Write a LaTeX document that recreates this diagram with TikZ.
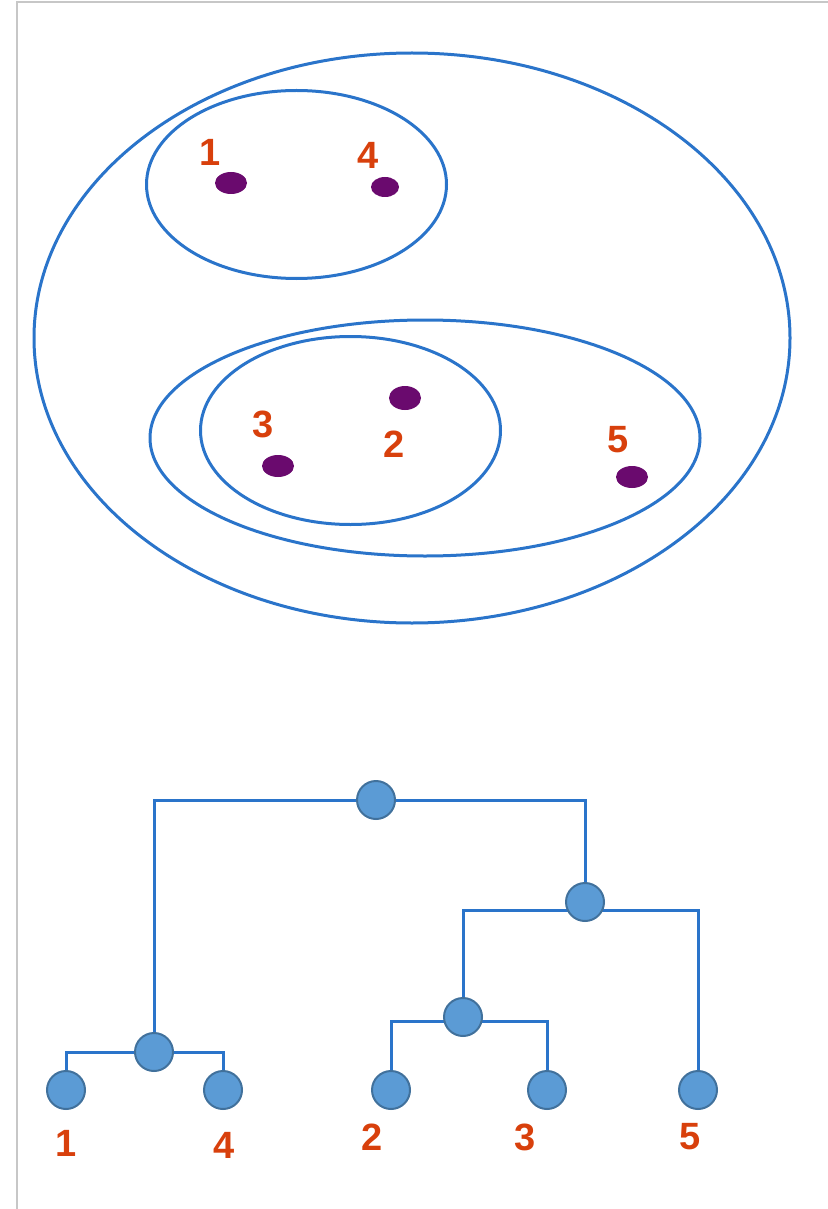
\documentclass[tikz,border=0pt]{standalone}
\usepackage{fontspec}
\setmainfont{Liberation Sans}
\usetikzlibrary{backgrounds}
\definecolor{ringblue}{HTML}{2A74CA}
\definecolor{dotpurple}{HTML}{6A0A6E}
\definecolor{numred}{HTML}{D8400C}
\definecolor{nodefill}{HTML}{5B9BD5}
\definecolor{nodeedge}{HTML}{41719C}

\begin{document}
\begin{tikzpicture}[x=0.5pt,y=-0.5pt,
  ring/.style={draw=ringblue,line width=1.5pt},
  pt/.style={fill=dotpurple,draw=none},
  num/.style={text=numred,font=\fontsize{19}{19}\selectfont\bfseries,inner sep=0pt},
  hnode/.style={circle,draw=nodeedge,line width=1pt,fill=nodefill,minimum size=19pt,inner sep=0pt},
  link/.style={draw=ringblue,line width=1.5pt}]
\useasboundingbox (0,0) rectangle (828,1209);
\draw[black!22,line width=0.75pt] (828,2) -- (17,2) -- (17,1209);
% clusters
\draw[ring] (412,338) ellipse [x radius=378,y radius=285];
\draw[ring] (296.5,184.5) ellipse [x radius=150,y radius=94];
\draw[ring] (425,438) ellipse [x radius=275,y radius=118];
\draw[ring] (350.5,430.5) ellipse [x radius=150,y radius=94];
% points
\fill[pt] (231,183) ellipse [x radius=16,y radius=11];
\fill[pt] (385,187) ellipse [x radius=14,y radius=10];
\fill[pt] (405,398) ellipse [x radius=16,y radius=12];
\fill[pt] (278,466) ellipse [x radius=16,y radius=11];
\fill[pt] (632,477) ellipse [x radius=16,y radius=11];
\node[num] (p1) at (210,152) {1};
\node[num] (p4) at (368,155) {4};
\node[num] (p3) at (263,424) {3};
\node[num] (p2) at (394,444) {2};
\node[num] (p5) at (618,440) {5};
% dendrogram
\node[hnode] (root) at (376,800) {};
\node[hnode] (m235) at (585,902) {};
\node[hnode] (m23) at (463,1017) {};
\node[hnode] (m14) at (154,1052) {};
\node[hnode] (l1) at (66,1090) {};
\node[hnode] (l4) at (223,1090) {};
\node[hnode] (l2) at (391,1090) {};
\node[hnode] (l3) at (547,1090) {};
\node[hnode] (l5) at (698,1090) {};
\begin{scope}[on background layer]
\draw[link] (m14.center) |- (root.center) -| (m235.center);
\draw[link] (m23.center) |- ([yshift=-4pt]m235.center) -| (l5.center);
\draw[link] (l2.center) |- ([yshift=-2pt]m23.center) -| (l3.center);
\draw[link] (l1.center) |- (m14.center) -| (l4.center);
\end{scope}
\node[num] (n1) at (66,1143) {1};
\node[num] (n4) at (224,1145) {4};
\node[num] (n2) at (372,1137) {2};
\node[num] (n3) at (525,1137) {3};
\node[num] (n5) at (690,1137) {5};
\end{tikzpicture}
\end{document}
